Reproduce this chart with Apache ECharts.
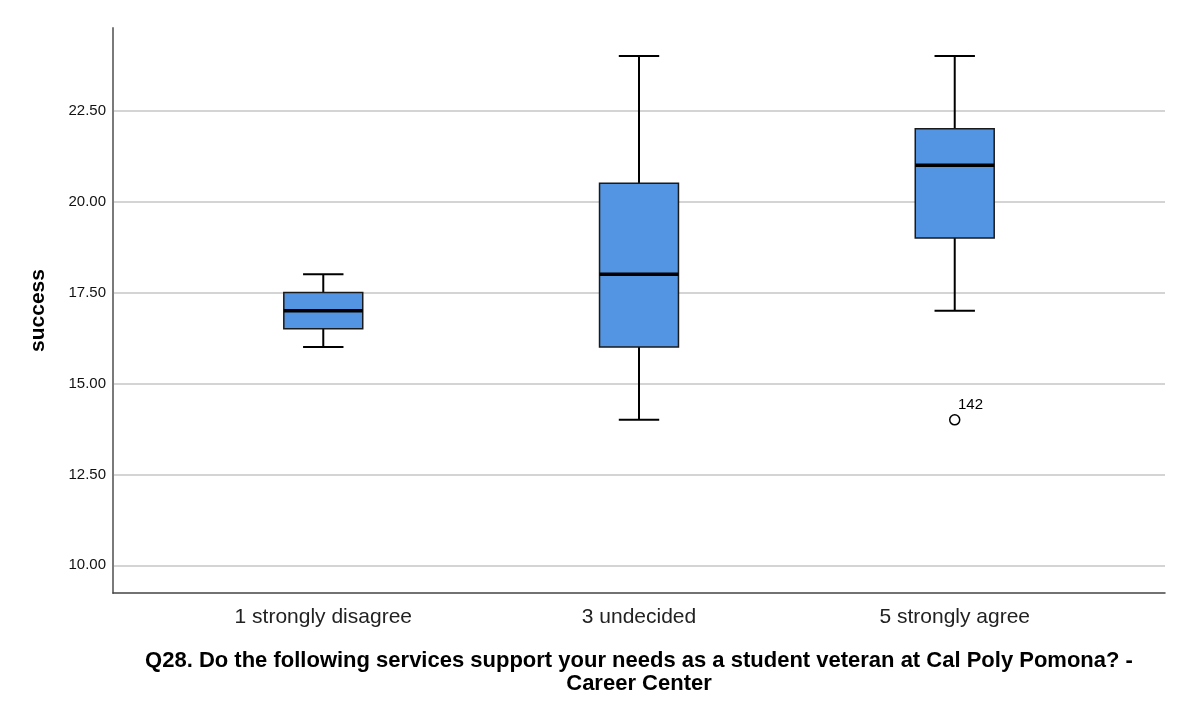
<!DOCTYPE html>
<html>
<head>
<meta charset="utf-8">
<title>success by Q28 - Career Center</title>
<script src="https://cdn.jsdelivr.net/npm/echarts@6/dist/echarts.min.js"></script>
<style>
  html, body { margin: 0; padding: 0; background: #fff; }
  #chart-box { width: 1200px; height: 716px; }
</style>
</head>
<body>
<div id="chart-box"></div>
<script>
// data
const categories = ['1 strongly disagree', '3 undecided', '5 strongly agree'];
const whiskerLow = [16, 14, 17];
const q1 = [16.5, 16, 19];
const median = [17, 18, 21];
const q3 = [17.5, 20.5, 22];
const whiskerHigh = [18, 24, 24];
// outliers: [category index, value]
const outliers = [[2, 14]];
const outlierIds = ['142'];
const yTicks = [10, 12.5, 15, 17.5, 20, 22.5];

const fontFamily = '"Liberation Sans", Arial, sans-serif';

const chart = echarts.init(document.querySelector('#chart-box'));

const boxData = categories.map((c, i) => [i, whiskerLow[i], q1[i], median[i], q3[i], whiskerHigh[i]]);

function renderBox(params, api) {
  const x = api.value(0);
  const lo = api.coord([x, api.value(1)]);
  const b1 = api.coord([x, api.value(2)]);
  const md = api.coord([x, api.value(3)]);
  const b3 = api.coord([x, api.value(4)]);
  const hi = api.coord([x, api.value(5)]);
  const unit = api.size([1, 0])[0];
  const halfBox = unit * 0.125;
  const halfCap = unit * 0.064;
  const cx = lo[0];
  const lineStyle = { stroke: '#000', lineWidth: 2 };
  return {
    type: 'group',
    children: [
      { type: 'line', shape: { x1: cx, y1: hi[1], x2: cx, y2: b3[1] }, style: lineStyle },
      { type: 'line', shape: { x1: cx, y1: b1[1], x2: cx, y2: lo[1] }, style: lineStyle },
      { type: 'line', shape: { x1: cx - halfCap, y1: hi[1], x2: cx + halfCap, y2: hi[1] }, style: lineStyle },
      { type: 'line', shape: { x1: cx - halfCap, y1: lo[1], x2: cx + halfCap, y2: lo[1] }, style: lineStyle },
      {
        type: 'rect',
        shape: { x: cx - halfBox, y: b3[1], width: halfBox * 2, height: b1[1] - b3[1] },
        style: { fill: '#5395e3', stroke: '#1a1a1a', lineWidth: 1.5 }
      },
      { type: 'line', shape: { x1: cx - halfBox, y1: md[1], x2: cx + halfBox, y2: md[1] }, style: { stroke: '#000', lineWidth: 3.5 } }
    ]
  };
}

const option = {
  backgroundColor: '#fff',
  animation: false,
  grid: { left: 113, right: 35, top: 28, bottom: 123 },
  xAxis: {
    type: 'value',
    min: -0.666,
    max: 2.666,
    name: 'Q28. Do the following services support your needs as a student veteran at Cal Poly Pomona? -\nCareer Center',
    nameLocation: 'middle',
    nameGap: 56,
    nameTextStyle: { fontFamily, fontSize: 22, fontWeight: 'bold', color: '#000', lineHeight: 23 },
    axisLine: { show: true, onZero: false, lineStyle: { color: '#444', width: 1.5 } },
    axisTick: { show: false, customValues: [0, 1, 2] },
    splitLine: { show: false },
    axisLabel: {
      customValues: [0, 1, 2],
      formatter: v => categories[Math.round(v)] || '',
      fontFamily, fontSize: 21, color: '#222', margin: 14
    }
  },
  yAxis: {
    type: 'value',
    min: 9.24,
    max: 24.77,
    name: 'success',
    nameLocation: 'middle',
    nameGap: 64,
    nameTextStyle: { fontFamily, fontSize: 21, fontWeight: 'bold', color: '#000' },
    axisLine: { show: true, onZero: false, lineStyle: { color: '#7a7a7a', width: 2 } },
    axisTick: { show: false, customValues: yTicks },
    axisLabel: {
      customValues: yTicks,
      formatter: v => v.toFixed(2),
      fontFamily, fontSize: 15, color: '#111', margin: 7
    },
    splitLine: { show: true, lineStyle: { color: '#c6c6c6', width: 1.5 } }
  },
  series: [
    {
      type: 'custom',
      renderItem: renderBox,
      encode: { x: 0, y: [1, 2, 3, 4, 5] },
      data: boxData,
      z: 3
    },
    {
      type: 'scatter',
      data: outliers,
      symbol: 'circle',
      symbolSize: 10,
      itemStyle: { color: '#fff', borderColor: '#000', borderWidth: 1.5, opacity: 1 },
      label: {
        show: true,
        position: [9, -17],
        formatter: p => outlierIds[p.dataIndex],
        fontFamily, fontSize: 15, color: '#000'
      },
      z: 4
    }
  ]
};

chart.setOption(option);
</script>
</body>
</html>
